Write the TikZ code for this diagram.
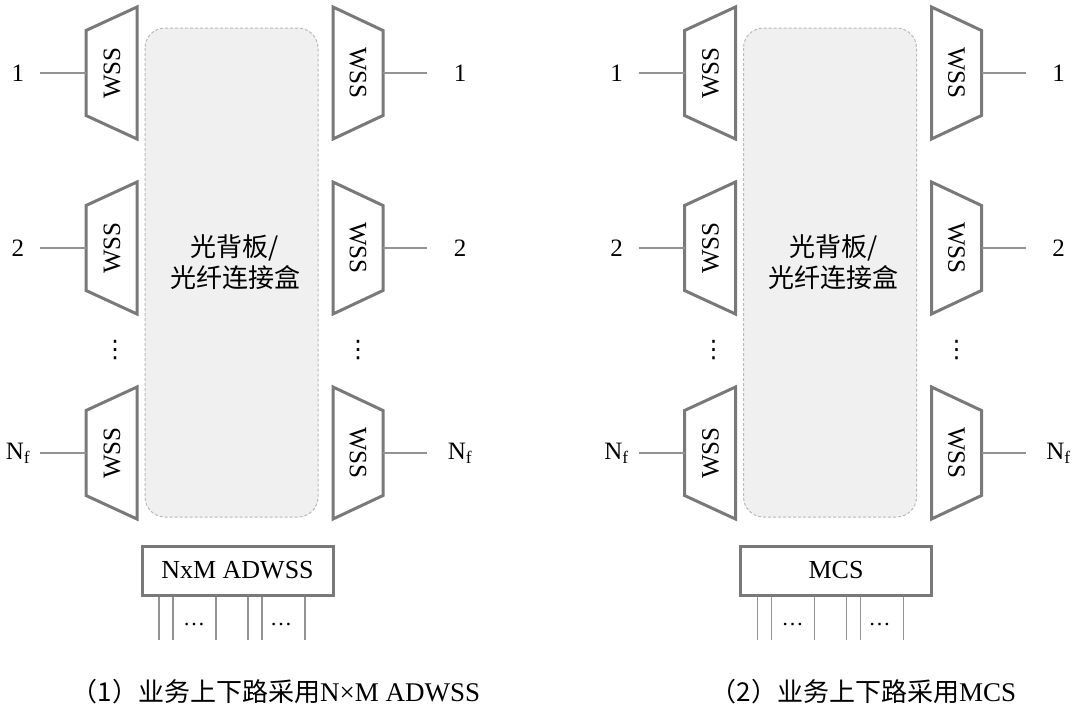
\documentclass[tikz,border=0pt]{standalone}
\usepackage{fontspec}
\setmainfont{Liberation Serif}
\newfontfamily\cjk{Noto Sans CJK SC}
\newfontfamily\dejavu{DejaVu Sans}
\newcommand\Nf{N\textsubscript{f}}
\tikzset{
  wssbox/.style={draw=gray!95!black, line width=3pt, fill=white, line join=miter},
  wsstext/.style={font=\fontsize{25}{30}\selectfont, inner sep=0pt},
  lab/.style={font=\fontsize{25}{30}\selectfont, inner sep=0pt},
  conn/.style={draw=gray!85, line width=1.2pt},
  backplane/.style={draw=gray!55, dash pattern=on 3pt off 2pt, line width=1pt, fill=gray!12, rounded corners=20pt},
  adbox/.style={draw=gray!95!black, line width=3pt, fill=white, inner sep=0pt, font=\fontsize{26}{30}\selectfont},
  dotstext/.style={font=\fontsize{22}{26}\selectfont, inner sep=0pt},
  vdotstext/.style={font=\dejavu\fontsize{24}{26}\selectfont, inner sep=0pt},
  captext/.style={font=\fontsize{27}{30}\selectfont, inner sep=0pt},
}
\newcommand\drawpanel[2]{%
  \path[backplane] (145,28) rectangle (318,517);
  \node[font=\cjk\fontsize{26}{31}\selectfont, align=center, inner sep=0pt] (bp) at (235,262) {光背板/\\光纤连接盒};
  \foreach \cy/\lab/\i in {73/1/a,248/2/b,453/\Nf/c}{
    % left WSS
    \draw[wssbox] (86,\cy-42.5) -- (137,\cy-66) -- (137,\cy+66) -- (86,\cy+42.5) -- cycle;
    \node[wsstext, rotate=90] (wl\i) at (112,\cy) {WSS};
    \coordinate (inl\i) at (86,\cy);
    \coordinate (sl\i) at (40,\cy);
    \node[lab] (ll\i) at (18,\cy) {\lab};
    \draw[conn] (sl\i) -- (inl\i);
    % right WSS
    \draw[wssbox] (383,\cy-42.5) -- (333,\cy-66) -- (333,\cy+66) -- (383,\cy+42.5) -- cycle;
    \node[wsstext, rotate=-90] (wr\i) at (358,\cy) {WSS};
    \coordinate (inr\i) at (383,\cy);
    \coordinate (sr\i) at (427,\cy);
    \node[lab] (lr\i) at (460,\cy) {\lab};
    \draw[conn] (inr\i) -- (sr\i);
  }
  \node[vdotstext] (vl) at (115,350) {⋮};
  \node[vdotstext] (vr) at (358,350) {⋮};
  \node[adbox, minimum width=191pt, minimum height=49pt] (ad) at (237.5,570.5) {#1};
  \foreach \x/\j in {159/1,173/2,216/3,248/4,262/5,305/6}{
    \coordinate (pt\j) at (\x,640);
    \draw[conn, line width=1.2pt] (ad.south -| pt\j) -- (pt\j);
  }
  \node[dotstext] (d1) at (194,625) {…};
  \node[dotstext] (d2) at (281,625) {…};
  #2
}
\begin{document}
\begin{tikzpicture}[x=1pt,y=-1pt]
  \useasboundingbox (0,0) rectangle (1080,707);
  \begin{scope}[name prefix=L-]
    \drawpanel{NxM ADWSS}{\node[captext] (cap) at (276,692) {{\cjk\fontsize{26}{30}\selectfont （1）业务上下路采用}N×M ADWSS};}
  \end{scope}
  \begin{scope}[xshift=598.5pt, name prefix=R-]
    \drawpanel{MCS}{\node[captext] (cap) at (265,692) {{\cjk\fontsize{26}{30}\selectfont （2）业务上下路采用}MCS};}
  \end{scope}
\end{tikzpicture}
\end{document}
